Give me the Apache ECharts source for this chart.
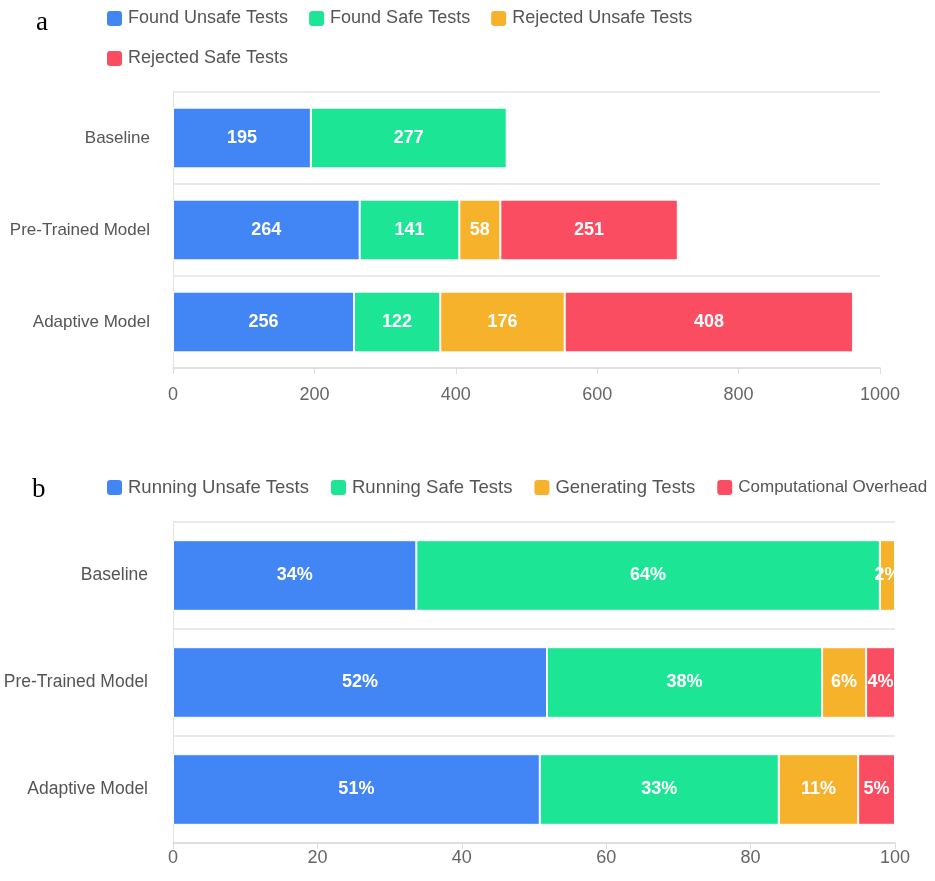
<!DOCTYPE html>
<html>
<head>
<meta charset="utf-8">
<script src="https://cdn.jsdelivr.net/npm/echarts@6/dist/echarts.min.js"></script>
<style>
html,body{margin:0;padding:0;background:#fff;}
#chart{width:935px;height:881px;}
</style>
</head>
<body>
<div id="chart"></div>
<script>
// Panel a data
var categoriesA = ['Baseline', 'Pre-Trained Model', 'Adaptive Model'];
var foundUnsafe = [195, 264, 256];
var foundSafe = [277, 141, 122];
var rejectedUnsafe = [null, 58, 176];
var rejectedSafe = [null, 251, 408];
var namesA = ['Found Unsafe Tests', 'Found Safe Tests', 'Rejected Unsafe Tests', 'Rejected Safe Tests'];
var ticksA = [0, 200, 400, 600, 800, 1000];

// Panel b data (percent of time)
var categoriesB = ['Baseline', 'Pre-Trained Model', 'Adaptive Model'];
var runningUnsafe = [33.7, 51.8, 50.8];
var runningSafe = [64.2, 38.1, 33.1];
var generating = [2.1, 6.1, 11.0];
var overhead = [null, 4.0, 5.1];
var namesB = ['Running Unsafe Tests', 'Running Safe Tests', 'Generating Tests', 'Computational Overhead'];
var ticksB = [0, 20, 40, 60, 80, 100];

var colors = ['#4285f4', '#1de596', '#f7b22b', '#fb4d62'];
var FONT = '"Liberation Sans", Arial, sans-serif';

var chart = echarts.init(document.getElementById('chart'));

function barSeries(name, data, xi, fmt, color) {
  return {
    name: name, type: 'bar', stack: 'stack' + xi,
    xAxisIndex: xi, yAxisIndex: xi,
    data: data, barCategoryGap: '34%',
    itemStyle: { color: color, borderColor: '#ffffff', borderWidth: 1 },
    label: {
      show: true, position: 'inside', color: '#fff',
      fontFamily: FONT, fontWeight: 'bold', fontSize: 18,
      formatter: fmt
    },
    emphasis: { disabled: true }
  };
}
var fmtA = function (p) { return p.value; };
var fmtB = function (p) { return Math.round(p.value) + '%'; };

function catAxis(cats, gi, margin, fs) {
  return {
    type: 'category', gridIndex: gi, data: cats, inverse: true,
    axisLine: { show: true, lineStyle: { color: '#e3e3e3' } },
    axisTick: { show: false },
    splitLine: { show: true, lineStyle: { color: '#e3e3e3', width: 1.5 } },
    axisLabel: { color: '#555', fontFamily: FONT, fontSize: fs, margin: margin }
  };
}
function valAxis(gi, ticks, margin) {
  return {
    type: 'value', gridIndex: gi, min: ticks[0], max: ticks[ticks.length - 1],
    interval: ticks[1] - ticks[0],
    axisLine: { show: true, lineStyle: { color: '#dcdcdc', width: 1.5 } },
    axisTick: { show: true, length: 6, lineStyle: { color: '#dcdcdc' } },
    splitLine: { show: false },
    axisLabel: { color: '#666', fontFamily: FONT, fontSize: 18, margin: margin,
      formatter: function (v) { return String(v); } }
  };
}

var legendTextA = { color: '#555', fontFamily: FONT, fontSize: 18 };
var legendTextB = { color: '#555', fontFamily: FONT, fontSize: 18.5 };

chart.setOption({
  animation: false,
  backgroundColor: '#ffffff',
  color: colors,
  title: [
    { text: 'a', left: 31, top: 4, textStyle: { fontFamily: '"Liberation Serif", "Times New Roman", serif', fontWeight: 'normal', fontSize: 27, color: '#000' } },
    { text: 'b', left: 27, top: 471, textStyle: { fontFamily: '"Liberation Serif", "Times New Roman", serif', fontWeight: 'normal', fontSize: 27, color: '#000' } }
  ],
  legend: [
    { left: 100, top: 4, itemWidth: 17, itemHeight: 17, itemGap: 19, icon: 'roundRect',
      textStyle: legendTextA, data: namesA.slice(0, 3), selectedMode: false },
    { left: 100, top: 44, itemWidth: 17, itemHeight: 17, itemGap: 19, icon: 'roundRect',
      textStyle: legendTextA, data: namesA.slice(3), selectedMode: false },
    { left: 100, top: 473, itemWidth: 17, itemHeight: 17, itemGap: 20, icon: 'roundRect',
      textStyle: legendTextB, selectedMode: false,
      data: [namesB[0], namesB[1], namesB[2], { name: namesB[3], textStyle: { fontSize: 17 } }] }
  ],
  grid: [
    { left: 173, right: 55, top: 92, height: 276, containLabel: false },
    { left: 173, right: 40, top: 522, height: 321, containLabel: false }
  ],
  xAxis: [valAxis(0, ticksA, 18), valAxis(1, ticksB, 6)],
  yAxis: [catAxis(categoriesA, 0, 23, 17), catAxis(categoriesB, 1, 25, 17.5)],
  series: [
    barSeries(namesA[0], foundUnsafe, 0, fmtA, colors[0]),
    barSeries(namesA[1], foundSafe, 0, fmtA, colors[1]),
    barSeries(namesA[2], rejectedUnsafe, 0, fmtA, colors[2]),
    barSeries(namesA[3], rejectedSafe, 0, fmtA, colors[3]),
    barSeries(namesB[0], runningUnsafe, 1, fmtB, colors[0]),
    barSeries(namesB[1], runningSafe, 1, fmtB, colors[1]),
    barSeries(namesB[2], generating, 1, fmtB, colors[2]),
    barSeries(namesB[3], overhead, 1, fmtB, colors[3])
  ]
});
</script>
</body>
</html>
